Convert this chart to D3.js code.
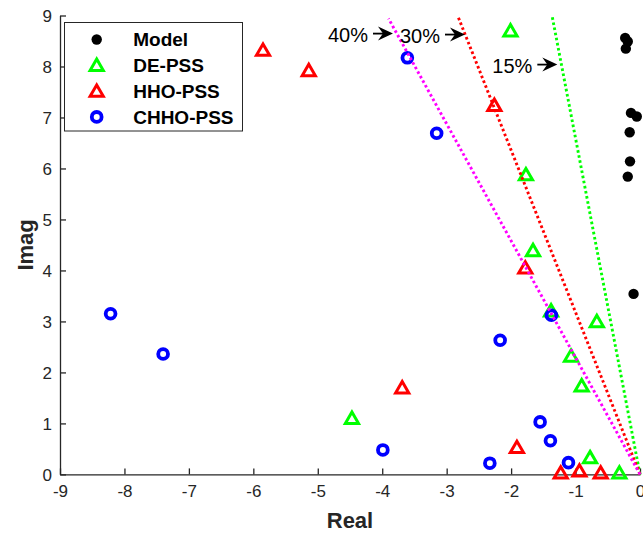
<!DOCTYPE html>
<html>
<head>
<meta charset="utf-8">
<script src="https://cdn.jsdelivr.net/npm/d3@7"></script>
<style>
  body { margin: 0; background: #fff; }
  svg { display: block; font-family: "Liberation Sans", Arial, sans-serif; }
</style>
</head>
<body>
<div id="vis"></div>
<script>
// eigenvalues (real, imag)
var modelRe = [-0.23, -0.19, -0.22, -0.14, -0.05, -0.16, -0.155, -0.19, -0.10];
var modelIm = [8.56, 8.49, 8.35, 7.09, 7.02, 6.71, 6.14, 5.84, 3.54];

var deRe = [-2.01, -1.77, -1.66, -1.38, -0.67, -1.07, -0.905, -0.775, -0.32, -4.47];
var deIm = [8.70, 5.88, 4.39, 3.21, 3.00, 2.32, 1.74, 0.33, 0.03, 1.10];

var hhoRe = [-5.85, -5.14, -2.26, -1.78, -3.69, -1.91, -1.23, -0.94, -0.61];
var hhoIm = [8.32, 7.92, 7.24, 4.05, 1.70, 0.53, 0.03, 0.07, 0.03];

var chhoRe = [-3.61, -3.155, -1.375, -2.17, -8.215, -7.40, -1.55, -1.39, -3.99, -2.33, -1.11];
var chhoIm = [8.17, 6.69, 3.12, 2.63, 3.15, 2.36, 1.03, 0.66, 0.48, 0.22, 0.23];

var seriesNames = ['Model', 'DE-PSS', 'HHO-PSS', 'CHHO-PSS'];

// damping ratio lines and their labels
var dampRatios = [0.15, 0.30, 0.40];
var dampTopIm = [9.0, 9.0, 8.94];
var dampLabels = ['15%', '30%', '40%'];
var arrowTipRe = [-1.283, -2.716, -3.833];
var arrowTipIm = [8.037, 8.626, 8.645];

var xTicks = [-9, -8, -7, -6, -5, -4, -3, -2, -1, 0];
var yTicks = [0, 1, 2, 3, 4, 5, 6, 7, 8, 9];

var width = 643, height = 533;
var margin = { top: 15.5, left: 60, bottom: 58.6, right: 3 };
var axisColor = '#262626';
var seriesColors = ['#000000', '#00ff00', '#ff0000', '#0000ff'];
var dampColors = ['#00ff00', '#ff0000', '#ff00ff'];

var x = d3.scaleLinear().domain([-9, 0]).range([margin.left, width - margin.right]);
var y = d3.scaleLinear().domain([0, 9]).range([height - margin.bottom, margin.top]);

var svg = d3.select('#vis').append('svg')
  .attr('width', width)
  .attr('height', height);

var plainNum = function (d) { return String(d); };

// axes, box off, ticks pointing in
var xAxis = svg.append('g')
  .attr('transform', 'translate(0,' + y(0) + ')')
  .call(d3.axisBottom(x).tickValues(xTicks).tickFormat(plainNum)
    .tickSize(-6).tickPadding(11).tickSizeOuter(0));
var yAxis = svg.append('g')
  .attr('transform', 'translate(' + x(-9) + ',0)')
  .call(d3.axisLeft(y).tickValues(yTicks).tickFormat(plainNum)
    .tickSize(-6).tickPadding(8).tickSizeOuter(0));

[xAxis, yAxis].forEach(function (ax) {
  ax.select('.domain').attr('stroke', axisColor).attr('stroke-width', 1.3);
  ax.selectAll('.tick line').attr('stroke', axisColor).attr('stroke-width', 1.3);
  ax.selectAll('.tick text')
    .attr('fill', axisColor)
    .style('font-size', '17px')
    .style('font-family', '"Liberation Sans", Arial, sans-serif');
});
xAxis.selectAll('.tick text').attr('dy', '0.71em');
yAxis.selectAll('.tick text').attr('dy', '0.36em');

svg.append('text')
  .attr('x', (x(-9) + x(0)) / 2)
  .attr('y', 528)
  .attr('text-anchor', 'middle')
  .attr('fill', axisColor)
  .style('font-size', '22px')
  .style('font-weight', 'bold')
  .text('Real');

svg.append('text')
  .attr('transform', 'translate(33,' + (y(0) + y(9)) / 2 + ') rotate(-90)')
  .attr('text-anchor', 'middle')
  .attr('fill', axisColor)
  .style('font-size', '22px')
  .style('font-weight', 'bold')
  .text('Imag');

// marker drawing
var triPath = 'M0,-6.2L6.6,5.2L-6.6,5.2Z';

function drawMarker(sel, kind, color) {
  if (kind === 0) {
    sel.append('circle').attr('r', 5.2).attr('fill', color);
  } else if (kind === 3) {
    sel.append('circle').attr('r', 4.9).attr('fill', 'none')
      .attr('stroke', color).attr('stroke-width', 3.8);
  } else {
    sel.append('path').attr('d', triPath).attr('fill', 'none')
      .attr('stroke', color).attr('stroke-width', 3)
      .attr('stroke-linejoin', 'miter');
  }
}

var series = [
  { re: modelRe, im: modelIm },
  { re: deRe, im: deIm },
  { re: hhoRe, im: hhoIm },
  { re: chhoRe, im: chhoIm }
];

series.forEach(function (s, k) {
  var pts = s.re.map(function (d, i) { return [d, s.im[i]]; });
  svg.append('g').selectAll('g')
    .data(pts)
    .enter()
    .append('g')
    .attr('transform', function (d) { return 'translate(' + x(d[0]) + ',' + y(d[1]) + ')'; })
    .each(function () { drawMarker(d3.select(this), k, seriesColors[k]); });
});

// constant damping lines from the origin
svg.append('g').selectAll('line')
  .data(dampRatios)
  .enter()
  .append('line')
  .attr('x1', x(0))
  .attr('y1', y(0))
  .attr('x2', function (d, i) { return x(-dampTopIm[i] * d / Math.sqrt(1 - d * d)); })
  .attr('y2', function (d, i) { return y(dampTopIm[i]); })
  .attr('stroke', function (d, i) { return dampColors[i]; })
  .attr('stroke-width', 2.9)
  .attr('stroke-dasharray', '2.6,2.6');

// text arrows
var ann = svg.append('g').selectAll('g')
  .data(dampLabels)
  .enter()
  .append('g')
  .attr('transform', function (d, i) { return 'translate(' + x(arrowTipRe[i]) + ',' + y(arrowTipIm[i]) + ')'; });

ann.append('line')
  .attr('x1', -20).attr('x2', -9)
  .attr('stroke', '#000').attr('stroke-width', 1.8);
ann.append('path')
  .attr('d', 'M0,0L-15,-7L-10,0L-15,7Z')
  .attr('fill', '#000');
ann.append('text')
  .attr('x', -25)
  .attr('y', 8.5)
  .attr('text-anchor', 'end')
  .attr('fill', '#000')
  .style('font-size', '20px')
  .text(function (d) { return d; });

// legend
var legend = svg.append('g');
legend.append('rect')
  .attr('x', 64.5).attr('y', 22.5)
  .attr('width', 178).attr('height', 108.5)
  .attr('fill', '#fff')
  .attr('stroke', axisColor)
  .attr('stroke-width', 1);

var rows = legend.selectAll('g.row')
  .data(seriesNames)
  .enter()
  .append('g')
  .attr('class', 'row')
  .attr('transform', function (d, i) { return 'translate(96.7,' + (39.5 + i * 25.8) + ')'; });

rows.each(function (d, i) { drawMarker(d3.select(this), i, seriesColors[i]); });

rows.append('text')
  .attr('x', 36.5)
  .attr('y', 6.8)
  .attr('fill', '#000')
  .style('font-size', '19px')
  .style('font-weight', 'bold')
  .text(function (d) { return d; });
</script>
</body>
</html>
